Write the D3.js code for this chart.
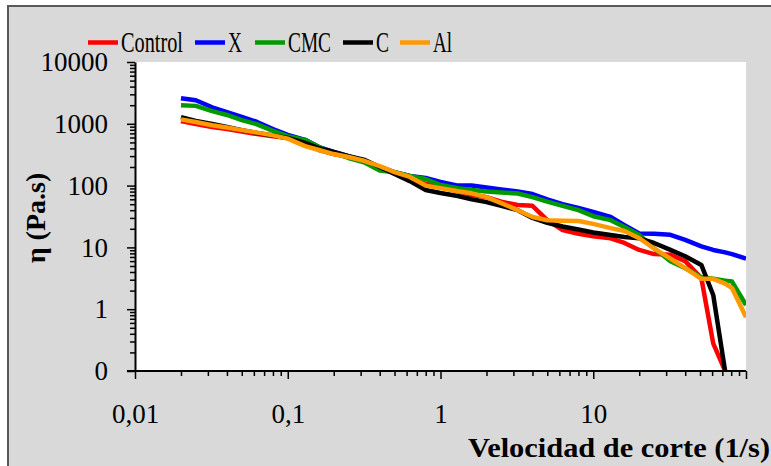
<!DOCTYPE html>
<html>
<head>
<meta charset="utf-8">
<script src="https://cdn.jsdelivr.net/npm/d3@7"></script>
<style>
  html, body { margin: 0; padding: 0; background: #ffffff; }
  svg { display: block; }
</style>
</head>
<body>
<svg id="chart" width="771" height="466"></svg>
<script>
// ---- data ----
const shearRate = [0.02,0.025,0.032,0.04,0.05,0.063,0.08,0.1,0.13,0.16,0.2,0.25,0.32,0.4,0.5,0.63,0.8,1,1.3,1.6,2,2.5,3.2,4,5,6.3,8,10,13,16,20,25,32,40,51,61,73,81,100];

const controlValues = [1110,990,890,825,750,683,630,590,455,377,324,290,250,200,160,133,107,95,81,71,65,55,48.5,47,27.7,19,16.6,15.2,14,11.8,9.1,7.8,7.6,6,3.2,0.28,0.1,null,null];
const xValues       = [2600,2400,1850,1550,1290,1070,825,660,550,420,350,300,250,200,165,143,133,115,100,100,93,86.5,80,73,60,50,43.5,37.4,31,22.9,16.8,16.6,16,13.2,10.4,9.1,8.3,7.8,6.6];
const cmcValues     = [2000,1950,1600,1390,1150,980,770,630,550,420,340,280,235,175,165,143,128,102,91,85,80,77.5,74.5,65,55,47,40,32,27.6,21.3,15.9,9.7,6.0,4.6,3.3,3.1,2.9,2.8,1.17];
const cValues       = [1280,1110,990,890,790,710,645,590,490,405,350,300,260,200,155,118,85,76,68,60,54,47,40,30,25,21.8,19.5,17.4,15.9,14.7,14,11.8,9.1,7.2,5.2,1.7,0.1,null,null];
const alValues      = [1180,1070,950,870,790,720,650,575,436,377,324,290,250,207,165,138,100,91,81,75,65,52,40,31,27.5,27,26.7,24,20.5,18.4,14.1,9.6,6.6,4.6,3.1,3.1,2.6,2.2,0.74];

const seriesNames  = ["Control","X","CMC","C","Al"];
const seriesColors = ["#ff0000","#0000ff","#009a00","#000000","#ff9900"];
const seriesData   = [controlValues, xValues, cmcValues, cValues, alValues];

const xTickValues = [0.01, 0.1, 1, 10, 100];
const xTickLabels = ["0,01", "0,1", "1", "10", ""];
const yTickValues = [0.1, 1, 10, 100, 1000, 10000];
const yTickLabels = ["0", "1", "10", "100", "1000", "10000"];

const xTitle = "Velocidad de corte (1/s)";
const yTitle = "η (Pa.s)";

// ---- layout ----
const svg = d3.select("#chart");
const W = 771, H = 466;
const plot = { left: 135, right: 746, top: 62, bottom: 371 };
const FONT = '"Liberation Serif", "Times New Roman", serif';

// chart area background with border
svg.append("rect").attr("x", 0).attr("y", 0).attr("width", W).attr("height", H).attr("fill", "#ffffff");
svg.append("rect").attr("x", 8).attr("y", 6).attr("width", W + 20).attr("height", H + 20)
  .attr("fill", "#d9d9d9").attr("stroke", "#595959").attr("stroke-width", 2);

// plot area
svg.append("rect").attr("x", plot.left).attr("y", plot.top)
  .attr("width", plot.right - plot.left).attr("height", plot.bottom - plot.top)
  .attr("fill", "#ffffff");

const x = d3.scaleLog().domain([0.01, 100]).range([plot.left, plot.right]);
const y = d3.scaleLog().domain([0.1, 10000]).range([plot.bottom, plot.top]);

// minor tick values
const minorX = [], minorY = [];
[0.01, 0.1, 1, 10].forEach(d => { for (let k = 2; k <= 9; k++) minorX.push(d * k); });
[0.1, 1, 10, 100, 1000].forEach(d => { for (let k = 2; k <= 9; k++) minorY.push(d * k); });

// series lines
svg.append("clipPath").attr("id", "clip").append("rect")
  .attr("x", plot.left).attr("y", plot.top - 5)
  .attr("width", plot.right - plot.left).attr("height", plot.bottom - plot.top + 5);

const line = d3.line()
  .defined(d => d[1] !== null)
  .x(d => x(d[0]))
  .y(d => y(d[1]));

const linesG = svg.append("g").attr("clip-path", "url(#clip)");
seriesData.forEach((vals, i) => {
  const pts = shearRate.map((s, j) => [s, vals[j]]);
  linesG.append("path").datum(pts)
    .attr("d", line)
    .attr("fill", "none")
    .attr("stroke", seriesColors[i])
    .attr("stroke-width", 4.5)
    .attr("stroke-linejoin", "round");
});

// axes
function styleAxis(g) {
  g.attr("font-family", null).attr("font-size", null);
  g.selectAll("path.domain").attr("stroke", "#000").attr("stroke-width", 2);
  g.selectAll(".tick line").attr("stroke", "#000").attr("stroke-width", 1.5);
  g.selectAll("text").style("font-family", FONT).style("font-size", "27px").attr("fill", "#000");
}

const xMinorAxis = svg.append("g").attr("transform", `translate(0,${plot.bottom})`)
  .call(d3.axisBottom(x).tickValues(minorX).tickSize(5).tickFormat(""));
xMinorAxis.selectAll("path.domain").remove();
xMinorAxis.selectAll(".tick line").attr("stroke", "#000").attr("stroke-width", 1.5);

const yMinorAxis = svg.append("g").attr("transform", `translate(${plot.left},0)`)
  .call(d3.axisLeft(y).tickValues(minorY).tickSize(5).tickFormat(""));
yMinorAxis.selectAll("path.domain").remove();
yMinorAxis.selectAll(".tick line").attr("stroke", "#000").attr("stroke-width", 1.5);

const xAxis = svg.append("g").attr("transform", `translate(0,${plot.bottom})`)
  .call(d3.axisBottom(x).tickValues(xTickValues).tickSizeInner(8).tickSizeOuter(0).tickPadding(25)
    .tickFormat((d, i) => xTickLabels[i]));
styleAxis(xAxis);
xAxis.select("path.domain").attr("d", `M${plot.left - 8},0H${plot.right}`);

const yAxis = svg.append("g").attr("transform", `translate(${plot.left},0)`)
  .call(d3.axisLeft(y).tickValues(yTickValues).tickSizeInner(8).tickSizeOuter(0).tickPadding(19)
    .tickFormat((d, i) => yTickLabels[i]));
styleAxis(yAxis);

// axis titles
svg.append("text")
  .attr("x", 468).attr("y", 457)
  .style("font-family", FONT).style("font-size", "28px").style("font-weight", "bold")
  .attr("textLength", 302).attr("lengthAdjust", "spacingAndGlyphs")
  .text(xTitle);

svg.append("text")
  .attr("transform", "translate(45,218) rotate(-90)")
  .attr("text-anchor", "middle")
  .style("font-family", FONT).style("font-size", "28px").style("font-weight", "bold")
  .text(yTitle);

// legend
const legendLineX = [88, 195, 255, 343, 400];
const legendTextLen = [62, 14, 43, 13, 19];
const legend = svg.append("g");
seriesNames.forEach((name, i) => {
  legend.append("line")
    .attr("x1", legendLineX[i]).attr("x2", legendLineX[i] + 30)
    .attr("y1", 42.5).attr("y2", 42.5)
    .attr("stroke", seriesColors[i]).attr("stroke-width", 4.5);
  legend.append("text")
    .attr("x", legendLineX[i] + 33).attr("y", 52)
    .style("font-family", FONT).style("font-size", "29px")
    .attr("textLength", legendTextLen[i]).attr("lengthAdjust", "spacingAndGlyphs")
    .text(name);
});
</script>
</body>
</html>
